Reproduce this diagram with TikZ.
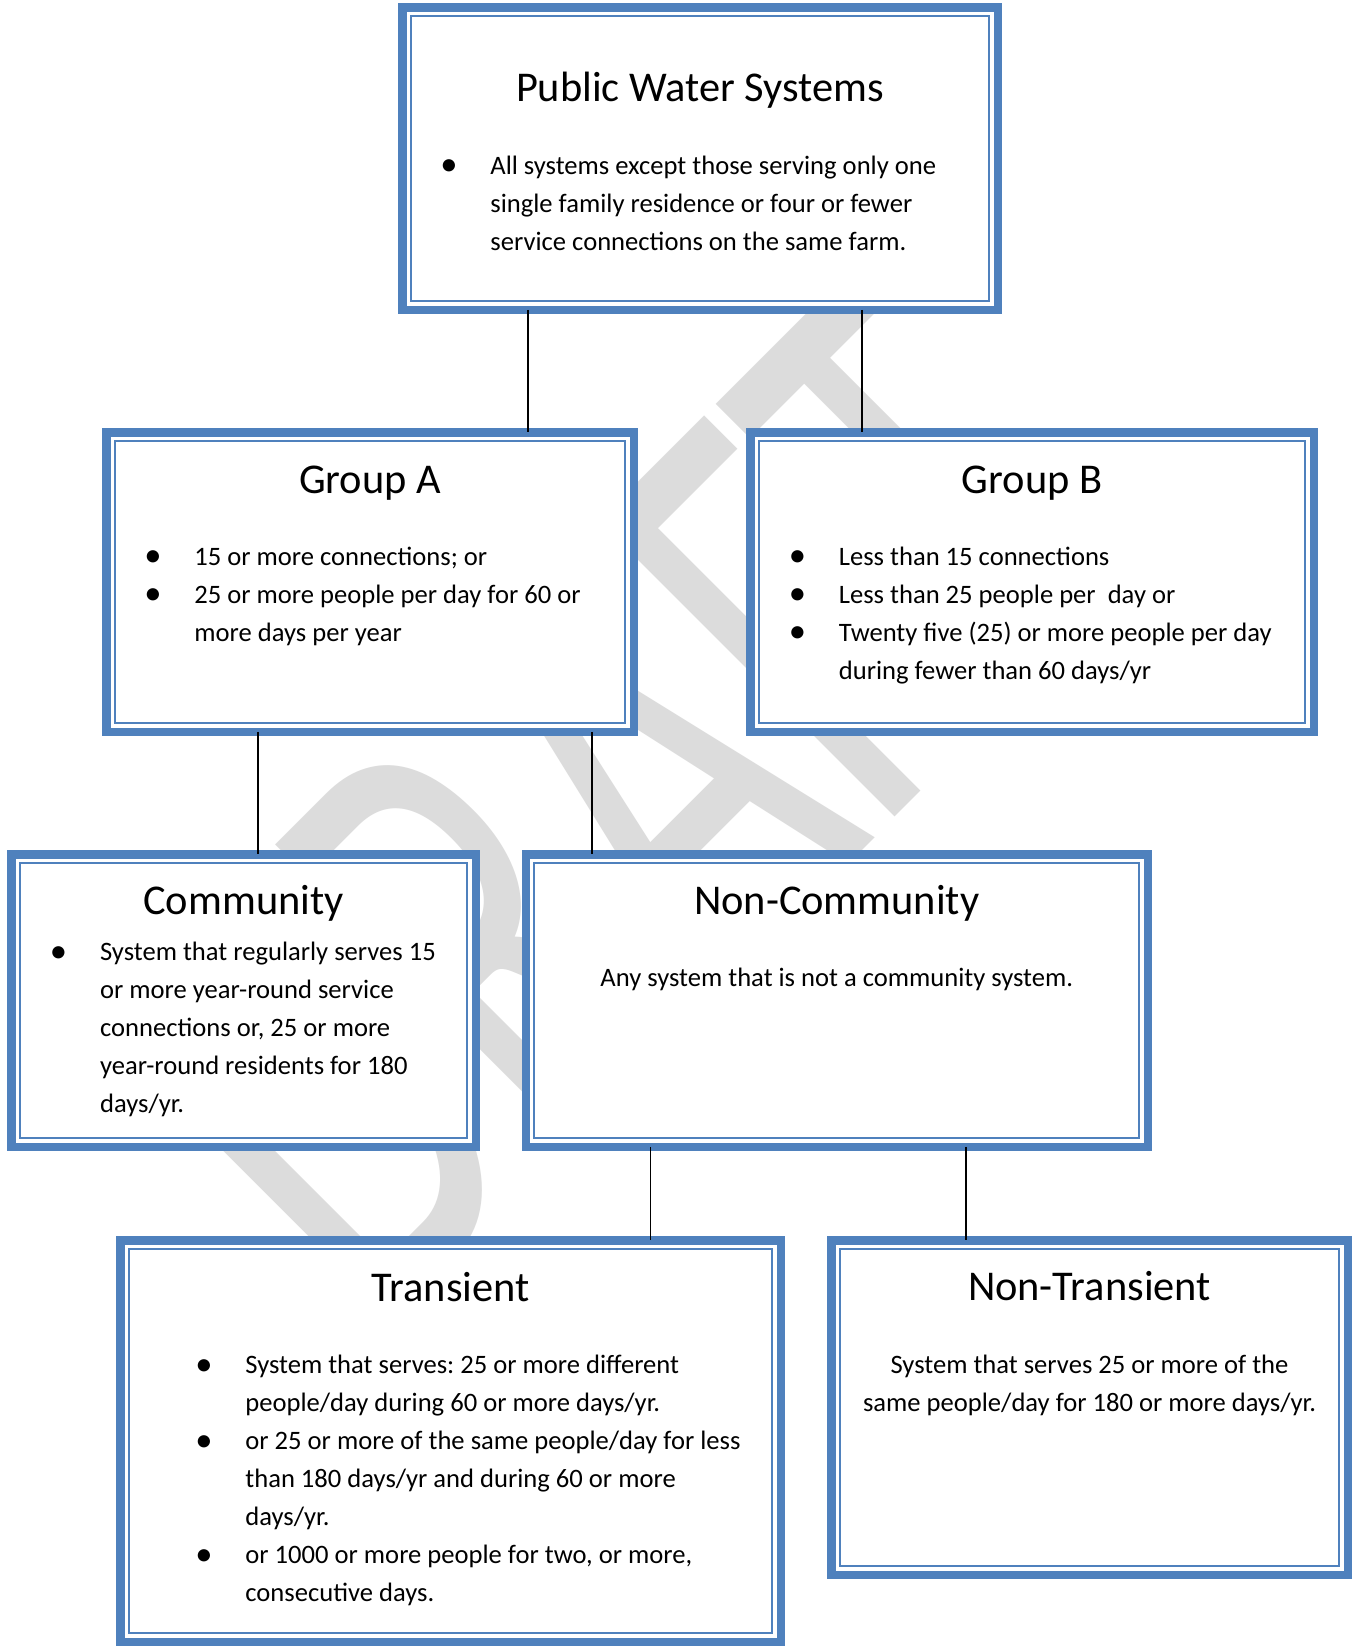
\documentclass[tikz,border=0pt]{standalone}
\usepackage{graphicx}
\usepackage{fontspec}
\setmainfont{Carlito}
\usetikzlibrary{calc}
\definecolor{bordblue}{HTML}{4F81BD}
\definecolor{wmgray}{RGB}{220,220,220}
\frenchspacing
\newcommand{\bfnt}{\fontsize{13.3pt}{19pt}\selectfont}
\newcommand{\tfnt}{\fontsize{21.2pt}{25pt}\selectfont}
\newcommand{\bl}{\hspace*{-20.75pt}\makebox[0pt][c]{\raisebox{-0.7pt}{\scalebox{1.3}{\textbullet}}}\hspace*{20.75pt}}
\newcommand{\blist}[1]{\parbox[t]{360pt}{\raggedright\bfnt #1}}
\newcommand{\clist}[1]{\parbox[t]{300pt}{\centering\bfnt #1}}
\begin{document}
\begin{tikzpicture}[x=0.5pt,y=-0.5pt,
  wbox/.style={draw=bordblue, fill=white, line width=4.25pt, outer sep=0pt, inner sep=0pt, rectangle, anchor=north west},
  thinb/.style={draw=bordblue, line width=1.1pt},
  ttl/.style={anchor=base, inner sep=0pt, font=\tfnt},
  body/.style={anchor=base west, inner sep=0pt},
  cbody/.style={anchor=base, inner sep=0pt},
  conn/.style={draw=black, line width=0.8pt},
  wmark/.style={text=wmgray, inner sep=0pt, anchor=base west, rotate=45, font=\fontsize{205pt}{205pt}\selectfont}]
\useasboundingbox (0,0) rectangle (1356,1646);
\fill[white] (0,0) rectangle (1356,1646);

% watermark
\node[wmark] (draft) at (372,1340) {\scalebox{1}[1.59]{DRAFT}};

% boxes
\node[wbox, minimum width=297.75pt, minimum height=151.25pt] (pws) at (402.25,7.25) {};
\node[wbox, minimum width=263.75pt, minimum height=149.75pt] (ga) at (106.25,432.25) {};
\node[wbox, minimum width=281.75pt, minimum height=149.75pt] (gb) at (750.25,432.25) {};
\node[wbox, minimum width=232.25pt, minimum height=146.25pt] (com) at (11.25,854.25) {};
\node[wbox, minimum width=311pt, minimum height=146.25pt] (nc) at (525.75,854.25) {};
\node[wbox, minimum width=330.25pt, minimum height=200.75pt] (tr) at (120.25,1240.25) {};
\node[wbox, minimum width=258.25pt, minimum height=167.25pt] (nt) at (831.25,1240.25) {};

\foreach \b in {pws,ga,gb,com,nc,tr,nt}
  \draw[thinb] ($(\b.north west)+(8.5,8.5)$) rectangle ($(\b.south east)+(-8.5,-8.5)$);

% titles
\node[ttl] (pwsT) at (700,101) {Public Water Systems};
\node[ttl] (gaT) at (370,493.6) {Group A};
\node[ttl] (gbT) at (1032,493.6) {Group B};
\node[ttl] (comT) at (243.5,914.5) {Community};
\node[ttl] (ncT) at (836.75,914.5) {Non-Community};
\node[ttl] (trT) at (450.5,1301) {Transient};
\node[ttl] (ntT) at (1089.5,1300) {Non-Transient};

% texts
\node[body] (pwsB) at (490,174) {\blist{\bl All systems except those serving only one\\ single family residence or four or fewer\\ service connections on the same farm.}};
\node[body] (gaB) at (194,565.2) {\blist{\bl 15 or more connections; or\\ \bl 25 or more people per day for 60 or\\ more days per year}};
\node[body] (gbB) at (838.5,565.2) {\blist{\bl Less than 15 connections\\ \bl Less than 25 people per\ \ day or\\ \bl Twenty five (25) or more people per day\\ during fewer than 60 days/yr}};
\node[body] (comB) at (99.7,960.9) {\blist{\bl System that regularly serves 15\\ or more year-round service\\ connections or, 25 or more\\ year-round residents for 180\\ days/yr.}};
\node[cbody, font=\bfnt] (ncB) at (836.75,986) {Any system that is not a community system.};
\node[body] (trB) at (245,1373.7) {\blist{\bl System that serves: 25 or more different\\ people/day during 60 or more days/yr.\\ \bl or 25 or more of the same people/day for less\\ than 180 days/yr and during 60 or more\\ days/yr.\\ \bl or 1000 or more people for two, or more,\\ consecutive days.}};
\node[cbody] (ntB) at (1089.5,1373.7) {\clist{System that serves 25 or more of the\\ same people/day for 180 or more days/yr.}};

% connectors
\path (pws.south west) ++(125.45,0) coordinate (c1);
\path (pws.south west) ++(459.75,0) coordinate (c2);
\path (ga.south west) ++(151.75,0) coordinate (c3);
\path (ga.south west) ++(485.75,0) coordinate (c4);
\path (nc.south west) ++(124.85,0) coordinate (c5);
\path (nc.south west) ++(440.25,0) coordinate (c6);
\draw[conn] (c1) -- (c1 |- ga.north);
\draw[conn] (c2) -- (c2 |- gb.north);
\draw[conn] (c3) -- (c3 |- com.north);
\draw[conn] (c4) -- (c4 |- nc.north);
\draw[conn] (c5) -- (c5 |- tr.north);
\draw[conn] (c6) -- (c6 |- nt.north);
\end{tikzpicture}
\end{document}
